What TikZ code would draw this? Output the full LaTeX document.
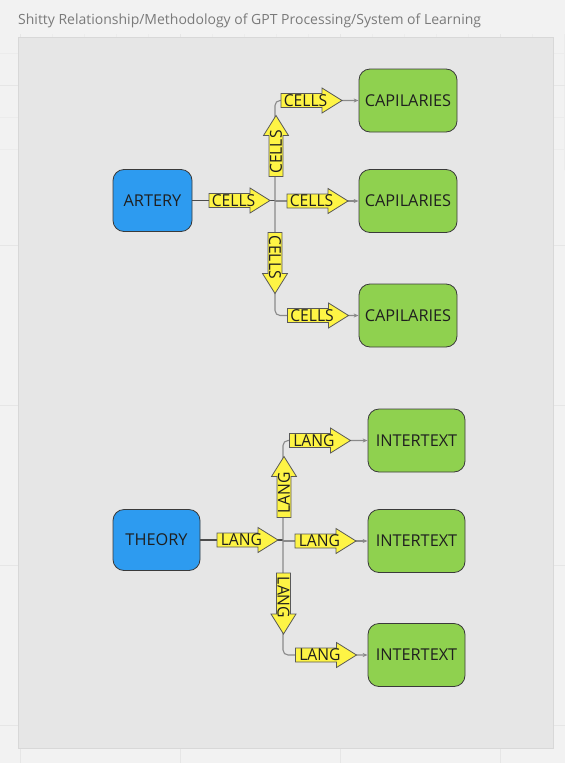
\documentclass[tikz,border=0pt]{standalone}
\usepackage{fontspec}
\setmainfont{Open Sans}
\usetikzlibrary{arrows.meta}
\definecolor{pagebg}{HTML}{F2F2F2}
\definecolor{gridmin}{HTML}{ECECEC}
\definecolor{gridmaj}{HTML}{E6E6E6}
\definecolor{panel}{HTML}{E6E6E6}
\definecolor{panelline}{HTML}{D8D8D8}
\definecolor{mblue}{HTML}{2D9BF0}
\definecolor{mgreen}{HTML}{8FD14F}
\definecolor{myellow}{HTML}{FEF445}
\definecolor{boxline}{HTML}{3A3A3A}
\definecolor{txt}{HTML}{1F1F1F}
\definecolor{titlec}{HTML}{7A7A7A}
\definecolor{linkc}{HTML}{8A8A8A}
\tikzset{
  box/.style={rounded corners=11pt, draw=boxline, line width=0.8pt, text=txt,
    font=\fontsize{16.3}{16.3}\selectfont, inner sep=0pt},
  src/.style={box, fill=mblue},
  dst/.style={box, fill=mgreen},
  link/.style={draw=linkc, line width=1.1pt, rounded corners=5pt},
  mainlink/.style={draw=black!70, line width=1.3pt},
  tip/.style={-{Stealth[length=5pt,width=4pt]}},
  yshape/.style={fill=myellow, draw=black!65, line width=0.8pt},
  ytext/.style={inner sep=0pt, text=txt, font=\fontsize{16.5}{16.5}\selectfont, transform shape, xscale=0.95},
}
% name, center, rotation, text
\newcommand{\yarr}[4]{%
  \begin{scope}[shift={#2}, rotate=#3]
    \path[yshape] (-30.5,-7) -- (10.5,-7) -- (10.5,-12.5) -- (30.5,0) -- (10.5,12.5) -- (10.5,7) -- (-30.5,7) -- cycle;
    \node[ytext] (#1) at (-6,0) {#4};
  \end{scope}}
\begin{document}
\begin{tikzpicture}[x=1pt,y=-1pt]
\useasboundingbox (0,0) rectangle (565,763);
\fill[pagebg] (0,0) rectangle (565,763);
\draw[gridmin, line width=0.6pt, step=32pt, xshift=20pt, yshift=-85pt] (-20,85) grid (545,-678);
\foreach \gx in {20,180,340,500} \draw[gridmaj, line width=1pt] (\gx,0) -- (\gx,763);
\foreach \gy in {85,245,405,565,725} \draw[gridmaj, line width=1pt] (0,\gy) -- (565,\gy);
\fill[pagebg] (0,0) rectangle (565,34);
\node[anchor=west, inner sep=0pt, text=titlec, font=\fontsize{14}{14}\selectfont] (title) at (18,21) {Shitty Relationship/Methodology of GPT Processing/System of Learning};
\draw[panelline, fill=panel, line width=0.8pt] (18,37) rectangle (553,748);

% ---- boxes
\node[src, minimum width=79pt, minimum height=62pt] (artery) at (152.5,200.5) {ARTERY};
\node[dst, minimum width=98pt, minimum height=63pt] (cap1) at (408,100.5) {CAPILARIES};
\node[dst, minimum width=98pt, minimum height=63pt] (cap2) at (408,201) {CAPILARIES};
\node[dst, minimum width=98pt, minimum height=63pt] (cap3) at (408,315.5) {CAPILARIES};

\node[src, minimum width=87pt, minimum height=61pt] (theory) at (156.5,540) {THEORY};
\node[dst, minimum width=97pt, minimum height=63pt] (int1) at (416.5,440.5) {INTERTEXT};
\node[dst, minimum width=97pt, minimum height=63pt] (int2) at (416.5,541) {INTERTEXT};
\node[dst, minimum width=97pt, minimum height=63pt] (int3) at (416.5,655) {INTERTEXT};

\coordinate (j1) at (275,201);
\coordinate (j2) at (283,541);

% ---- connectors
\draw[mainlink] (artery.east) -- (artery.east -| j1);
\draw[link, tip] (j1) -- (j1 |- cap1) -- (cap1.west);
\draw[link, tip] (j1) -- (cap2.west);
\draw[link, tip] (j1) -- (j1 |- cap3) -- (cap3.west);

\draw[mainlink] (theory.east) -- (theory.east -| j2);
\draw[link, tip] (j2) -- (j2 |- int1) -- (int1.west);
\draw[link, tip] (j2) -- (int2.west);
\draw[link, tip] (j2) -- (j2 |- int3) -- (int3.west);

% ---- arrow labels
\yarr{c1}{(239.5,200.5)}{0}{CELLS}
\yarr{c2}{(276,146)}{90}{CELLS}
\yarr{c3}{(311.5,100.5)}{0}{CELLS}
\yarr{c4}{(317.5,201)}{0}{CELLS}
\yarr{c5}{(275,263)}{-90}{CELLS}
\yarr{c6}{(318,315.5)}{0}{CELLS}

\yarr{l1}{(247.5,540)}{0}{LANG}
\yarr{l2}{(284,487)}{90}{LANG}
\yarr{l3}{(320,440.5)}{0}{LANG}
\yarr{l4}{(325.5,541)}{0}{LANG}
\yarr{l5}{(283.5,603.5)}{-90}{LANG}
\yarr{l6}{(326,655)}{0}{LANG}
\end{tikzpicture}
\end{document}
